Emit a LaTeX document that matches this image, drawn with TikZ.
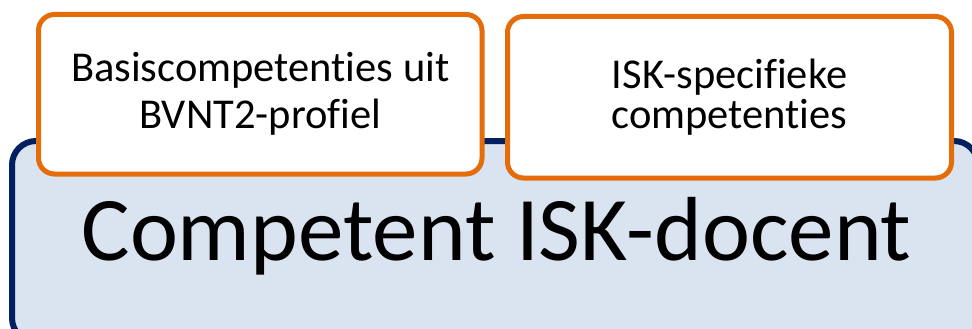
\documentclass[tikz,border=0pt]{standalone}
\usepackage{fontspec}
\setmainfont[Ligatures=NoCommon]{Carlito}
\definecolor{navyline}{HTML}{002060}
\definecolor{lightfill}{HTML}{DAE3F0}
\definecolor{orangeline}{HTML}{E46C0A}
\tikzset{
  bigbox/.style={draw=navyline,fill=lightfill,line width=6pt,rounded corners=24pt},
  compbox/.style={draw=orangeline,fill=white,line width=5pt,rounded corners=16pt,
    align=center,inner sep=0pt},
}
\begin{document}
\begin{tikzpicture}[x=1pt,y=-1pt]
\useasboundingbox (0,0) rectangle (972,329);
\clip (0,0) rectangle (972,329);
% the learner
\node [bigbox,minimum width=966pt,minimum height=201pt] (docent) at (495,241.5) {};
\node [font=\fontsize{91}{100}\selectfont] (docenttxt) at (496.5,236) {Competent ISK-docent};
% the two kinds of competences
\node [compbox,minimum width=443.5pt,minimum height=159.5pt,
  font=\fontsize{42.5}{47}\selectfont] (basis) at (260.25,94.25)
  {Basiscompetenties uit\\BVNT2-profiel};
\node [compbox,minimum width=444pt,minimum height=161.5pt,
  font=\fontsize{42.5}{40}\selectfont] (isk) at (729.5,97.25)
  {ISK-specifieke\\competenties};
\end{tikzpicture}
\end{document}
